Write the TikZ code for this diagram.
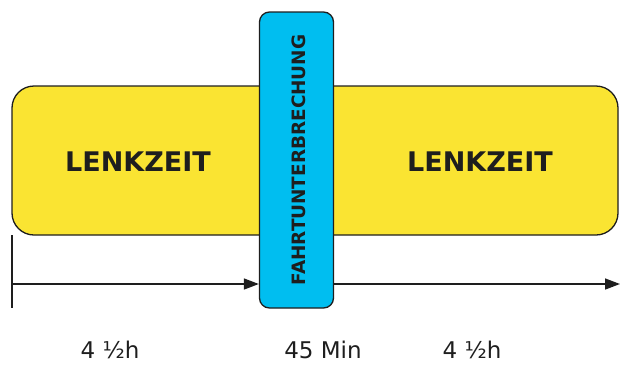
\documentclass[tikz,border=0pt]{standalone}
\usepackage{fontspec}
\setmainfont{DejaVu Sans}
\usetikzlibrary{arrows.meta}
\definecolor{yel}{RGB}{250,228,50}
\definecolor{blu}{RGB}{0,190,240}
\definecolor{ink}{RGB}{30,30,30}
\tikzset{
  yelbox/.style={draw=ink, line width=1.3pt, fill=yel, rounded corners=22pt},
  blubox/.style={draw=ink, line width=1.3pt, fill=blu, rounded corners=10pt, inner sep=0pt},
  bigtxt/.style={font=\fontsize{27}{30}\selectfont\bfseries, text=ink, inner sep=0pt, anchor=base},
  vtxt/.style={font=\fontsize{18.4}{20}\selectfont\bfseries, text=ink, inner sep=0pt, anchor=base, rotate=90},
  smalltxt/.style={font=\fontsize{23}{25}\selectfont, text=ink, inner sep=0pt, anchor=base},
  arr/.style={draw=ink, line width=1.5pt, -{Triangle[length=15pt,width=11pt]}},
  tick/.style={draw=ink, line width=1.5pt}
}
\begin{document}
\begin{tikzpicture}[x=1pt,y=-1pt]
\useasboundingbox (0,0) rectangle (620,365);
% yellow boxes
\path[yelbox] (12,86) rectangle (300,235);
\coordinate (lsw) at (12,235);
\path[yelbox] (290,86) rectangle (618,235);
\node[bigtxt] (l1) at (138,171.5) {LENKZEIT};
\node[bigtxt] (l2) at (480,171.5) {LENKZEIT};
% blue box
\node[blubox, minimum width=74pt, minimum height=296pt] (pause) at (296.5,160) {};
\node[vtxt] (pt) at (305,160) {FAHRTUNTERBRECHUNG};
% timeline
\coordinate (tickb) at (12,308);
\coordinate (a1s) at (12,284);
\coordinate (a2e) at (620,284);
\draw[tick] (lsw) -- (tickb);
\draw[arr] (a1s) -- (a1s -| pause.west);
\draw[arr] (a1s -| pause.east) -- (a2e);
% labels
\node[smalltxt] (d1) at (110,358) {4 ½h};
\node[smalltxt] (d2) at (323,358) {45 Min};
\node[smalltxt] (d3) at (472,358) {4 ½h};
\end{tikzpicture}
\end{document}
